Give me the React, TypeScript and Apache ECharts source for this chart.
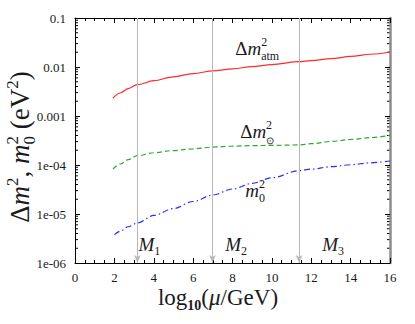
import React, { useEffect, useRef } from "react";
import * as echarts from "echarts";

// x positions (log10(mu/GeV)) where curves were read
const xsRG = [1.93, 2.3, 2.7, 3.17, 4, 5, 6, 7, 8, 9, 10, 11.38, 12, 13, 14, 15, 16];
const xsB = [2.0, 2.3, 2.7, 3.17, 4, 5, 6, 7, 8, 9, 10, 11.38, 12, 13, 14, 15, 16];
// Delta m^2_atm (eV^2)
const atmValues = [0.00233, 0.00295, 0.00363, 0.00436, 0.00525, 0.00631, 0.00733, 0.00832, 0.00918, 0.01014, 0.01122, 0.01282, 0.01349, 0.01479, 0.01641, 0.0182, 0.02023];
// Delta m^2_sun (eV^2)
const solValues = [8.28e-5, 1.047e-4, 1.288e-4, 1.549e-4, 1.778e-4, 1.972e-4, 2.138e-4, 2.317e-4, 2.427e-4, 2.483e-4, 2.512e-4, 2.57e-4, 2.723e-4, 3.02e-4, 3.311e-4, 3.631e-4, 4.027e-4];
// m_0^2 (eV^2)
const m0Values = [3.784e-6, 4.467e-6, 5.495e-6, 6.546e-6, 9.333e-6, 1.288e-5, 1.799e-5, 2.443e-5, 3.236e-5, 4.217e-5, 5.495e-5, 7.656e-5, 8.222e-5, 9.226e-5, 1.012e-4, 1.109e-4, 1.208e-4];
// thresholds M1, M2, M3
const thresholds = [3.17, 6.98, 11.38];
const thresholdNames = ["1", "2", "3"];
const yTickLabels = ["1e-06", "1e-05", "1e-04", "0.001", "0.01", "0.1"];

const SERIF = "Liberation Serif";
const TXT = "#1a1a1a";

type Piece = { t: string; s: number; it?: boolean; b?: boolean; dy?: number; stack?: boolean };

let measureCtx: CanvasRenderingContext2D | null = null;
function measure(p: Piece) {
  if (!measureCtx) measureCtx = document.createElement("canvas").getContext("2d");
  measureCtx!.font = `${p.it ? "italic " : ""}${p.b ? "bold " : ""}${p.s}px "${SERIF}"`;
  return measureCtx!.measureText(p.t).width;
}

function mathText(pieces: Piece[]) {
  let x = 0;
  let lastStart = 0;
  const els: any[] = [];
  for (const p of pieces) {
    const w = measure(p);
    const start = p.stack ? lastStart : x;
    els.push({
      type: "text",
      x: start,
      y: (p.dy || 0) - 0.3375 * p.s,
      silent: true,
      style: {
        text: p.t,
        fontSize: p.s,
        fontFamily: SERIF,
        fontStyle: p.it ? "italic" : "normal",
        fontWeight: p.b ? "bold" : "normal",
        fill: TXT,
        align: "left",
        verticalAlign: "middle",
      },
    });
    lastStart = start;
    x = Math.max(x, start + w);
  }
  return { els, width: x };
}

export default function App() {
  const ref = useRef<HTMLDivElement>(null);
  useEffect(() => {
    if (!ref.current) return;
    const chart = echarts.init(ref.current, null, { renderer: "svg" });
    const axisLabelStyle = { fontFamily: SERIF, fontSize: 13, color: TXT };
    const baseX = {
      type: "value",
      min: 0,
      max: 16,
      interval: 2,
      splitLine: { show: false },
      axisLine: { show: true, onZero: false, lineStyle: { color: "#000", width: 1 } },
      axisTick: { show: true, inside: true, length: 5, lineStyle: { color: "#000" } },
      minorTick: { show: true, splitNumber: 4, length: 3, lineStyle: { color: "#000" } },
      minorSplitLine: { show: false },
    };
    const baseY = {
      type: "log",
      logBase: 10,
      min: 1e-6,
      max: 0.1,
      splitLine: { show: false },
      axisLine: { show: true, onZero: false, lineStyle: { color: "#000", width: 1 } },
      axisTick: { show: true, inside: true, length: 5, lineStyle: { color: "#000" } },
    };
    const lineSeries = (name: string, xs: number[], ys: number[], color: string, type: any) => ({
      name,
      type: "line",
      data: xs.map((x, i) => [x, ys[i]]),
      showSymbol: false,
      smooth: 0.35,
      smoothMonotone: "x",
      clip: true,
      lineStyle: { color, width: 1.2, type },
      z: 3,
    });
    const series: any[] = [
      lineSeries("atm", xsRG, atmValues, "#ff2a2a", "solid"),
      lineSeries("sol", xsRG, solValues, "#2fa82f", [5, 3]),
      lineSeries("m0", xsB, m0Values, "#2a2aff", [6, 3, 1.5, 3]),
    ];
    series[0].markLine = {
      silent: true,
      animation: false,
      label: { show: false },
      lineStyle: { color: "#b8b8b8", width: 1, type: "solid" },
      symbolSize: [5, 8],
      data: thresholds.map((v) => [
        { coord: [v, 0.1], symbol: "none" },
        { coord: [v, 1e-6], symbol: "arrow" },
      ]),
    };
    chart.setOption({
      animation: false,
      grid: { left: 75, right: 25, top: 18, bottom: 61 },
      xAxis: [
        {
          ...baseX,
          position: "bottom",
          axisLabel: { ...axisLabelStyle, margin: 8 },
        },
        {
          ...baseX,
          position: "top",
          axisLabel: { show: false },
        },
      ],
      yAxis: [
        {
          ...baseY,
          position: "left",
          axisLabel: {
            ...axisLabelStyle,
            margin: 9,
            formatter: (v: number) => {
              const e = Math.round(Math.log10(v));
              return yTickLabels[e + 6] ?? "";
            },
          },
        },
        {
          ...baseY,
          position: "right",
          axisLine: { show: true, onZero: false, lineStyle: { color: "#8c8c8c", width: 2.5 } },
          axisLabel: { show: false },
        },
      ],
      series,
    });

    const P = (x: number, y: number) =>
      chart.convertToPixel({ gridIndex: 0 } as any, [x, y]) as number[];
    const graphics: any[] = [];
    const [gl] = P(0, 0.1);
    const [gr] = P(16, 1e-6);

    // log minor ticks on left and right
    for (let d = -6; d <= -2; d++) {
      for (let k = 2; k <= 9; k++) {
        const y = P(0, k * Math.pow(10, d))[1];
        graphics.push({ type: "line", silent: true, shape: { x1: gl, y1: y, x2: gl + 3, y2: y }, style: { stroke: "#000", lineWidth: 1 } });
        graphics.push({ type: "line", silent: true, shape: { x1: gr - 3, y1: y, x2: gr, y2: y }, style: { stroke: "#000", lineWidth: 1 } });
      }
    }

    const place = (pieces: Piece[], x: number, y: number) => {
      const { els } = mathText(pieces);
      const [px, py] = P(x, y);
      graphics.push({ type: "group", x: px, y: py, children: els });
    };
    // curve labels
    place(
      [
        { t: "Δ", s: 19 },
        { t: "m", s: 19, it: true },
        { t: "2", s: 12, dy: -9 },
        { t: "atm", s: 12, dy: 5, stack: true },
      ],
      8.14,
      0.0178
    );
    place(
      [
        { t: "Δ", s: 19 },
        { t: "m", s: 19, it: true },
        { t: "2", s: 12, dy: -9 },
        { t: "⊙", s: 10, dy: 6, stack: true },
      ],
      8.39,
      3.6e-4
    );
    place(
      [
        { t: "m", s: 19, it: true },
        { t: "2", s: 12, dy: -9 },
        { t: "0", s: 12, dy: 5, stack: true },
      ],
      8.65,
      2.25e-5
    );
    const mOffsets = [0.05, 0.65, 1.18];
    thresholds.forEach((v, i) => {
      place(
        [
          { t: "M", s: 19, it: true },
          { t: thresholdNames[i], s: 12, dy: 4 },
        ],
        v + mOffsets[i],
        1.73e-6
      );
    });

    // x axis name
    {
      const { els, width } = mathText([
        { t: "log", s: 23 },
        { t: "10", s: 14, b: true, dy: 5 },
        { t: "(", s: 23 },
        { t: "μ", s: 23, it: true },
        { t: "/GeV)", s: 23 },
      ]);
      graphics.push({ type: "group", x: 218 - width / 2, y: 305, children: els });
    }
    // y axis name (rotated)
    {
      const { els, width } = mathText([
        { t: "Δ", s: 27 },
        { t: "m", s: 27, it: true },
        { t: "2", s: 17, dy: -11 },
        { t: ", ", s: 27 },
        { t: "m", s: 27, it: true },
        { t: "2", s: 17, dy: -11 },
        { t: "0", s: 17, dy: 6, stack: true },
        { t: " (eV", s: 27 },
        { t: "2", s: 17, dy: -11 },
        { t: ")", s: 27 },
      ]);
      graphics.push({
        type: "group",
        x: 29,
        y: 147,
        rotation: Math.PI / 2,
        children: [{ type: "group", x: -width / 2, y: 0, children: els }],
      });
    }
    chart.setOption({ graphic: graphics });
    return () => chart.dispose();
  }, []);
  return (
    <div
      ref={ref}
      style={{ position: "fixed", left: 0, top: 0, width: 415, height: 324, background: "#fff" }}
    />
  );
}
